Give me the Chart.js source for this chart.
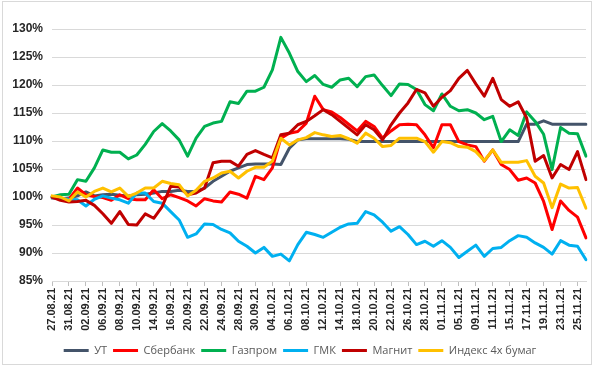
<!DOCTYPE html>
<html>
<head>
<meta charset="utf-8">
<script src="https://cdn.jsdelivr.net/npm/chart.js@4.4.1/dist/chart.umd.min.js"></script>
<style>
  html, body { margin: 0; padding: 0; background: #fff; }
  #wrap { position: relative; width: 600px; height: 368px; }
  #frame { position: absolute; left: 2px; top: 1px; width: 590px; height: 364px; border: 1px solid #d9d9d9; box-sizing: border-box; pointer-events: none; }
  canvas { display: block; }
</style>
</head>
<body>
<div id="wrap">
  <canvas id="c" width="600" height="368"></canvas>
  <div id="frame"></div>
</div>
<script>
const dates = ['27.08.21','30.08.21','31.08.21','01.09.21','02.09.21','03.09.21','06.09.21','07.09.21','08.09.21','09.09.21','10.09.21','13.09.21','14.09.21','15.09.21','16.09.21','17.09.21','20.09.21','21.09.21','22.09.21','23.09.21','24.09.21','27.09.21','28.09.21','29.09.21','30.09.21','01.10.21','04.10.21','05.10.21','06.10.21','07.10.21','08.10.21','11.10.21','12.10.21','13.10.21','14.10.21','15.10.21','18.10.21','19.10.21','20.10.21','21.10.21','22.10.21','25.10.21','26.10.21','27.10.21','28.10.21','29.10.21','01.11.21','03.11.21','05.11.21','08.11.21','09.11.21','10.11.21','11.11.21','12.11.21','15.11.21','16.11.21','17.11.21','18.11.21','19.11.21','22.11.21','23.11.21','24.11.21','25.11.21','26.11.21'];

const ut = [99.8,99.7,99.8,100.2,100.9,100.2,100.4,100.5,100.3,100.2,
  100.4,100.5,100.7,101,101,101.2,101,101,101.6,102.8,
  103.7,104.6,105.2,105.8,105.9,105.9,105.9,105.8,108.7,110.2,
  110.4,110.4,110.4,110.4,110.4,110.3,
  109.9,109.9,109.9,109.9,109.9,109.9,109.9,109.9,109.9,109.9,
  109.9,109.9,109.9,109.9,109.9,109.9,109.9,109.9,109.9,109.9,
  113,113,113.6,113,113,113,113,113];

const sber = [100,99.8,99.6,101.6,100.4,100.1,99.9,99.4,100.4,99.7,
  99.5,99.5,101.3,99.7,100.4,99.9,99.3,98.4,99.7,99.3,
  99.1,100.9,100.5,99.8,103.7,103.1,105.2,110.5,111.4,111.7,
  113.2,118,115.6,115.2,114.2,113,111.8,113.5,112.6,110.5,
  111.8,112.9,113,112.9,111.1,108.8,112.9,112.9,109.9,109.3,
  109,106.4,108.4,105.8,104.9,103,103.4,102.5,99.2,94.2,
  99.3,97.6,96.4,92.7];

const gazprom = [100,100.4,100.5,103.1,102.8,105.2,108.4,108,108,106.8,
  107.5,109.4,111.7,113.1,111.8,110.2,107.3,110.5,112.6,113.2,
  113.5,117,116.7,118.9,118.9,119.6,122.7,128.5,125.7,122.4,
  120.6,121.7,120.1,119.6,120.9,121.2,119.7,121.5,121.8,119.9,
  118.1,120.2,120.1,119.2,116.5,115.4,118.4,116.2,115.4,115.6,
  115,113.8,114.4,109.9,112,111,115.2,113.5,111.2,104.9,
  112.4,111.4,111.3,107.3];

const gmk = [100,99.8,99.6,99.5,98.4,99.6,100.2,99.8,99.5,98.9,
  100.7,100.7,99.2,98.9,97.4,95.9,92.8,93.4,95.2,95.1,
  94.2,93.6,92.1,91.2,90,91,89.4,89.8,88.6,91.5,
  93.7,93.3,92.8,93.7,94.6,95.2,95.3,97.4,96.8,95.5,
  93.9,94.7,93.3,91.5,92.1,91.2,92.2,91,89.2,90.3,
  91.4,89.4,90.8,91,92.2,93.1,92.8,91.8,91,89.8,
  92.2,91.4,91.2,88.8];

const magnit = [100,99.4,99.1,99.2,99.4,98.5,97,95.3,97.4,95.1,
  95,97,96.2,98.3,101.9,101.8,100.4,100.7,101.6,106.1,
  106.4,106.4,105.5,107.6,108.3,107.6,107,111.1,111.4,112.9,
  113.5,114.5,115.6,114.7,113.5,112.3,111.1,112.9,112,110.2,
  112.9,115,116.8,119.2,118.6,116.2,117.8,119,121.2,122.6,
  120.2,118,121.2,117.4,116.2,117,114.1,106.4,107.4,103.4,
  105.8,104.9,108.1,103.1];

const index4 = [100.2,100,99.3,100.9,100,101,101.6,100.9,101.6,100.1,
  100.7,101.6,101.6,102.8,102.4,102.2,100.2,101.2,102.8,103.4,
  104.3,104.6,103.4,104.6,105.3,105.3,106.4,110.5,109.3,110.2,
  110.6,111.5,111.1,110.8,111,110.4,109.6,111.4,110.5,109,
  109.2,110.5,110.5,110.5,109.9,108,109.9,109.7,109,108.9,
  108.1,106.5,108.4,106.2,106.2,106.2,106.5,103.7,102.5,98.1,
  102.3,101.6,101.7,98];

const seriesNames = ['УТ','Сбербанк','Газпром','ГМК','Магнит','Индекс 4х бумаг'];
const seriesData = [ut, sber, gazprom, gmk, magnit, index4];
const seriesColors = ['#44546A','#FF0000','#00B050','#00B0F0','#C00000','#FFC000'];
const yTicks = [85, 90, 95, 100, 105, 110, 115, 120, 125, 130];

const datasets = seriesNames.map((n, k) => ({
  label: n,
  data: seriesData[k],
  borderColor: seriesColors[k],
  backgroundColor: seriesColors[k],
  borderWidth: 3,
  pointRadius: 0,
  tension: 0,
  borderJoinStyle: 'round',
  borderCapStyle: 'round',
  order: seriesNames.length - 1 - k
}));

new Chart(document.getElementById('c'), {
  type: 'line',
  data: { labels: dates, datasets },
  options: {
    responsive: false,
    animation: false,
    devicePixelRatio: 1,
    layout: { padding: { top: 29, left: 0, right: 0, bottom: 2 } },
    plugins: {
      tooltip: { enabled: false },
      legend: {
        position: 'bottom',
        reverse: true,
        labels: {
          usePointStyle: true,
          pointStyle: 'line',
          pointStyleWidth: 25,
          boxHeight: 11,
          padding: 6,
          color: '#595959',
          font: { family: 'Open Sans', size: 11 }
        }
      }
    },
    scales: {
      x: {
        offset: false,
        afterFit: (s) => { s.height = 58; },
        grid: { drawOnChartArea: false, drawTicks: true, tickLength: 5, color: '#bfbfbf' },
        border: { display: true, color: '#d9d9d9' },
        ticks: {
          autoSkip: false,
          minRotation: 90,
          maxRotation: 90,
          padding: 2,
          color: '#262626',
          font: { family: 'Liberation Sans', size: 11, weight: 'bold' },
          callback: (v, i) => (i % 2 === 0 ? dates[i] : null)
        }
      },
      y: {
        min: yTicks[0],
        max: yTicks[yTicks.length - 1],
        afterFit: (s) => { s.width = 52; },
        afterBuildTicks: (s) => { s.ticks = yTicks.map(v => ({ value: v })); },
        grid: { color: '#d9d9d9', drawTicks: false },
        border: { display: false },
        ticks: {
          padding: 9,
          color: '#262626',
          font: { family: 'Liberation Sans', size: 12, weight: 'bold' },
          callback: (v) => v + '%'
        }
      },
      y2: {
        position: 'right',
        min: yTicks[0],
        max: yTicks[yTicks.length - 1],
        afterFit: (s) => { s.width = 14; },
        grid: { display: false },
        border: { display: false },
        ticks: { display: false }
      }
    }
  }
});
</script>
</body>
</html>
